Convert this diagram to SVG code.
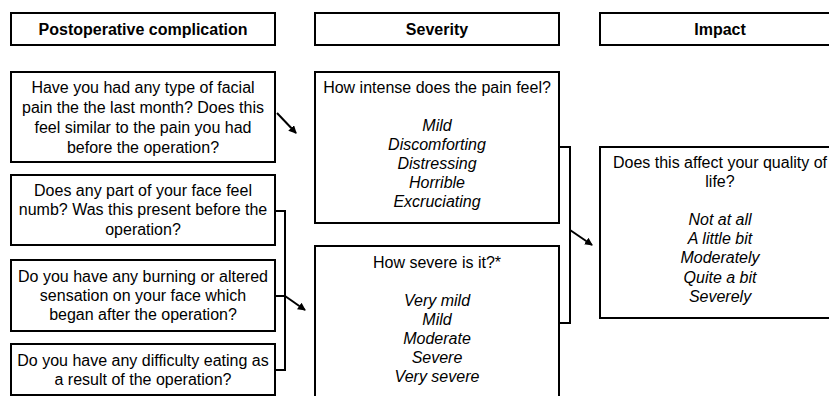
<svg xmlns="http://www.w3.org/2000/svg" width="829" height="396" viewBox="0 0 829 396">
<style>
.box{fill:#fff;stroke:#000;stroke-width:2}
.hd{font-family:"Liberation Sans",Arial,sans-serif;font-size:16px;font-weight:bold;text-anchor:middle}
.t{font-family:"Liberation Sans",Arial,sans-serif;font-size:16px;text-anchor:middle}
.i{font-style:italic}
.c{fill:none;stroke:#000;stroke-width:2}
</style>
<defs>
<marker id="ah" markerWidth="8" markerHeight="8" refX="7" refY="4" orient="auto" markerUnits="userSpaceOnUse">
<path d="M0,0 L8,4 L0,8 Z" fill="#000"/>
</marker>
</defs>
<rect width="829" height="396" fill="#fff"/>
<g id="h1"><rect class="box" x="11" y="13" width="264" height="32"/><text class="hd" x="143" y="35">Postoperative complication</text></g>
<g id="h2"><rect class="box" x="315" y="13" width="244" height="32"/><text class="hd" x="437" y="35">Severity</text></g>
<g id="h3"><rect class="box" x="600" y="13" width="240" height="32"/><text class="hd" x="720" y="35">Impact</text></g>
<g id="q1"><rect class="box" x="11" y="72" width="264" height="90"/>
<text class="t" x="143" y="93">Have you had any type of facial</text>
<text class="t" x="143" y="113">pain the the last month? Does this</text>
<text class="t" x="143" y="133">feel similar to the pain you had</text>
<text class="t" x="143" y="153">before the operation?</text></g>
<g id="q2"><rect class="box" x="11" y="175" width="264" height="70"/>
<text class="t" x="143" y="196">Does any part of your face feel</text>
<text class="t" x="143" y="215">numb? Was this present before the</text>
<text class="t" x="143" y="235">operation?</text></g>
<g id="q3"><rect class="box" x="11" y="260" width="264" height="71"/>
<text class="t" x="143" y="282">Do you have any burning or altered</text>
<text class="t" x="143" y="301">sensation on your face which</text>
<text class="t" x="143" y="320">began after the operation?</text></g>
<g id="q4"><rect class="box" x="11" y="344" width="264" height="51"/>
<text class="t" x="143" y="366">Do you have any difficulty eating as</text>
<text class="t" x="143" y="385">a result of the operation?</text></g>
<g id="s1"><rect class="box" x="315" y="72" width="244" height="151"/>
<text class="t" x="437" y="93">How intense does the pain feel?</text>
<text class="t i" x="437" y="131">Mild</text>
<text class="t i" x="437" y="150">Discomforting</text>
<text class="t i" x="437" y="169">Distressing</text>
<text class="t i" x="437" y="188">Horrible</text>
<text class="t i" x="437" y="207">Excruciating</text></g>
<g id="s2"><rect class="box" x="315" y="246" width="244" height="160"/>
<text class="t" x="437" y="268">How severe is it?*</text>
<text class="t i" x="437" y="306">Very mild</text>
<text class="t i" x="437" y="325">Mild</text>
<text class="t i" x="437" y="344">Moderate</text>
<text class="t i" x="437" y="363">Severe</text>
<text class="t i" x="437" y="382">Very severe</text></g>
<g id="i1"><rect class="box" x="600" y="147" width="240" height="171"/>
<text class="t" x="720" y="168">Does this affect your quality of</text>
<text class="t" x="720" y="187">life?</text>
<text class="t i" x="720" y="225">Not at all</text>
<text class="t i" x="720" y="244">A little bit</text>
<text class="t i" x="720" y="263">Moderately</text>
<text class="t i" x="720" y="283">Quite a bit</text>
<text class="t i" x="720" y="302">Severely</text></g>
<g id="connectors">
<path class="c" d="M277,113 L296,133" marker-end="url(#ah)"/>
<path class="c" d="M275,211 H285 V370 H275 M275,296 H285"/>
<path class="c" d="M285,296 L305,310" marker-end="url(#ah)"/>
<path class="c" d="M559,147 H570 V323 H559"/>
<path class="c" d="M570,230 L592,245" marker-end="url(#ah)"/>
</g>
</svg>
